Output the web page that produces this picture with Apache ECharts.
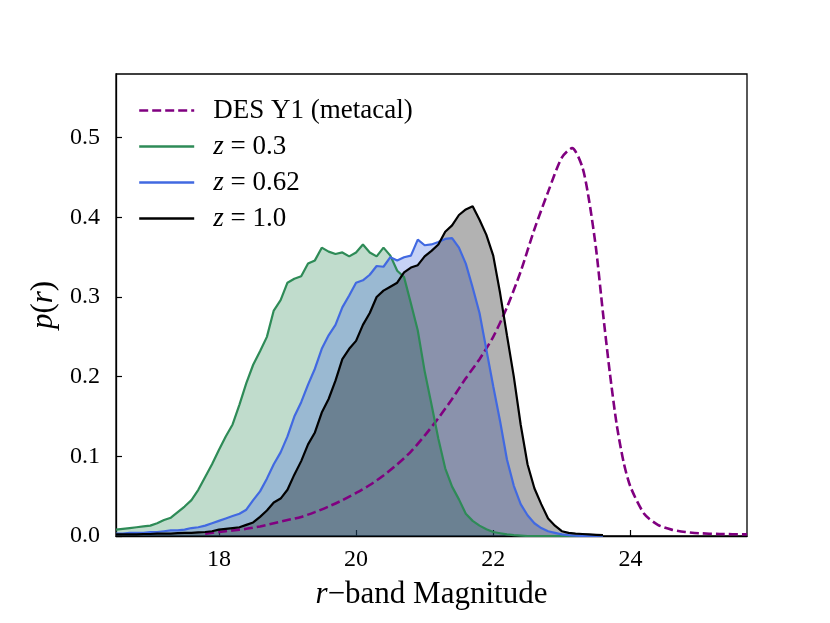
<!DOCTYPE html>
<html>
<head>
<meta charset="utf-8">
<script src="https://cdn.jsdelivr.net/npm/echarts@6/dist/echarts.min.js"></script>
<style>
html, body { margin: 0; padding: 0; background: #fff; }
#chart { width: 830px; height: 623px; }
</style>
</head>
<body>
<div id="chart"></div>
<script>
// bin centres of the simulated histograms (r magnitude)
var mags = [16.5, 16.6, 16.7, 16.8, 16.9, 17.0, 17.1, 17.2, 17.3, 17.4,
            17.5, 17.6, 17.7, 17.8, 17.9, 18.0, 18.1, 18.2, 18.3, 18.4,
            18.5, 18.6, 18.7, 18.8, 18.9, 19.0, 19.1, 19.2, 19.3, 19.4,
            19.5, 19.6, 19.7, 19.8, 19.9, 20.0, 20.1, 20.2, 20.3, 20.4,
            20.5, 20.6, 20.7, 20.8, 20.9, 21.0, 21.1, 21.2, 21.3, 21.4,
            21.5, 21.6, 21.7, 21.8, 21.9, 22.0, 22.1, 22.2, 22.3, 22.4,
            22.5, 22.6, 22.7, 22.8, 22.9, 23.0, 23.1, 23.2, 23.3, 23.4,
            23.5, 23.6];

// z = 0.3
var pZ03 = [0.008, 0.009, 0.010, 0.011, 0.012, 0.013, 0.016, 0.020, 0.023, 0.030,
            0.037, 0.045, 0.058, 0.074, 0.090, 0.108, 0.125, 0.140, 0.165, 0.192,
            0.215, 0.232, 0.250, 0.283, 0.296, 0.318, 0.323, 0.326, 0.342, 0.346,
            0.362, 0.357, 0.354, 0.356, 0.351, 0.356, 0.366, 0.356, 0.351, 0.362,
            0.352, 0.333, 0.325, 0.292, 0.258, 0.207, 0.165, 0.122, 0.085, 0.062,
            0.046, 0.028, 0.019, 0.013, 0.0085, 0.005, 0.0035, 0.002, 0.001, 0.0005,
            0, 0, 0, 0, 0, 0, 0, 0, 0, 0,
            0, 0];

// z = 0.62
var pZ062 = [0.003, 0.003, 0.004, 0.004, 0.004, 0.005, 0.005, 0.006, 0.007, 0.007,
             0.008, 0.010, 0.011, 0.013, 0.016, 0.019, 0.022, 0.025, 0.028, 0.033,
             0.045, 0.056, 0.072, 0.090, 0.105, 0.125, 0.150, 0.168, 0.190, 0.210,
             0.235, 0.252, 0.265, 0.287, 0.302, 0.318, 0.321, 0.328, 0.339, 0.338,
             0.350, 0.346, 0.350, 0.352, 0.372, 0.365, 0.366, 0.369, 0.373, 0.374,
             0.362, 0.342, 0.312, 0.280, 0.234, 0.188, 0.144, 0.096, 0.063, 0.040,
             0.026, 0.016, 0.010, 0.006, 0.004, 0.002, 0.001, 0.0005, 0, 0,
             0, 0];

// z = 1.0
var pZ10 = [0.002, 0.002, 0.002, 0.002, 0.0025, 0.0025, 0.003, 0.003, 0.003, 0.0035,
            0.004, 0.004, 0.0045, 0.005, 0.006, 0.008, 0.009, 0.010, 0.011, 0.014,
            0.017, 0.024, 0.032, 0.042, 0.047, 0.058, 0.077, 0.094, 0.115, 0.130,
            0.155, 0.172, 0.195, 0.222, 0.235, 0.245, 0.265, 0.280, 0.300, 0.308,
            0.313, 0.318, 0.331, 0.337, 0.340, 0.351, 0.358, 0.366, 0.382, 0.390,
            0.403, 0.410, 0.414, 0.397, 0.378, 0.352, 0.305, 0.252, 0.200, 0.140,
            0.090, 0.060, 0.040, 0.022, 0.013, 0.006, 0.004, 0.003, 0.0025, 0.002,
            0.0015, 0.001];

// DES Y1 metacal distribution
var desMag = [17.8, 18.0, 18.2, 18.4, 18.6, 18.8, 19.0, 19.2, 19.4, 19.6,
              19.8, 20.0, 20.2, 20.4, 20.6, 20.8, 21.0, 21.2, 21.4, 21.6,
              21.8, 22.0, 22.2, 22.4, 22.6, 22.8, 23.0, 23.15, 23.3, 23.4,
              23.5, 23.6, 23.7, 23.8, 23.9, 24.0, 24.2, 24.4, 24.6, 24.8,
              25.0, 25.3, 25.7];
var desP = [0.003, 0.005, 0.007, 0.009, 0.012, 0.016, 0.020, 0.024, 0.030, 0.037,
            0.045, 0.054, 0.064, 0.076, 0.090, 0.106, 0.126, 0.148, 0.172, 0.198,
            0.222, 0.250, 0.287, 0.332, 0.385, 0.432, 0.475, 0.487, 0.463, 0.420,
            0.360, 0.280, 0.205, 0.140, 0.093, 0.062, 0.028, 0.014, 0.008, 0.005,
            0.0035, 0.0025, 0.002];

var xTicks = [18, 20, 22, 24];
var yTicks = [0, 0.1, 0.2, 0.3, 0.4, 0.5];

var FONT = 'Liberation Serif';

function pairs(xs, ys) {
    var out = [];
    for (var i = 0; i < xs.length; i++) out.push([xs[i], ys[i]]);
    return out;
}

function fill(name, color, ys) {
    return {
        name: name + '_fill',
        type: 'line',
        data: pairs(mags, ys),
        symbol: 'none',
        silent: true,
        z: 1,
        lineStyle: {width: 0, opacity: 0},
        areaStyle: {color: color, opacity: 0.3}
    };
}

function line(name, color, xs, ys, dashed) {
    return {
        name: name,
        type: 'line',
        data: pairs(xs, ys),
        symbol: 'none',
        smooth: dashed ? 0.25 : false,
        z: 3,
        color: color,
        lineStyle: {color: color, width: dashed ? 2.6 : 2.2, type: dashed ? [9, 4] : 'solid'}
    };
}

var chart = echarts.init(document.getElementById('chart'));

var option = {
    backgroundColor: '#fff',
    animation: false,
    grid: {
        left: 116, right: 83, top: 74, bottom: 87,
        show: true, borderColor: '#000', borderWidth: 1.3, backgroundColor: 'transparent'
    },
    legend: {
        data: ['DES Y1 (metacal)', 'z = 0.3', 'z = 0.62', 'z = 1.0'],
        orient: 'vertical',
        left: 138,
        top: 97,
        padding: 0,
        itemWidth: 55,
        itemHeight: 20,
        itemGap: 9,
        itemStyle: {opacity: 0, borderWidth: 0},
        lineStyle: {width: 2.4},
        formatter: function (n) {
            return n.charAt(0) === 'z' ? '{i|z} ' + n.substring(2) : n;
        },
        textStyle: {
            fontFamily: FONT, fontSize: 27, color: '#000', lineHeight: 20,
            padding: [0, 0, 0, 14],
            rich: {i: {fontFamily: FONT, fontSize: 27, fontStyle: 'italic', color: '#000'}}
        }
    },
    xAxis: {
        type: 'value',
        min: 16.5,
        max: 25.7,
        name: '{i|r}\u2212band Magnitude',
        nameLocation: 'middle',
        nameGap: 43,
        nameTextStyle: {
            fontFamily: FONT, fontSize: 31, color: '#000',
            rich: {i: {fontFamily: FONT, fontSize: 31, fontStyle: 'italic', color: '#000'}}
        },
        axisLine: {show: true, onZero: false, lineStyle: {color: '#000', width: 1.3}},
        axisTick: {show: true, inside: true, length: 6, customValues: xTicks, lineStyle: {color: '#000', width: 1.2}},
        axisLabel: {customValues: xTicks, margin: 12, fontFamily: FONT, fontSize: 24, color: '#000'},
        splitLine: {show: false}
    },
    yAxis: {
        type: 'value',
        min: 0,
        max: 0.58,
        name: '{i|p}({i|r})',
        nameLocation: 'middle',
        nameRotate: 90,
        nameGap: 51,
        nameTextStyle: {
            fontFamily: FONT, fontSize: 31, color: '#000',
            rich: {i: {fontFamily: FONT, fontSize: 31, fontStyle: 'italic', color: '#000'}}
        },
        axisLine: {show: true, lineStyle: {color: '#000', width: 1.3}},
        axisTick: {show: true, inside: true, length: 6, customValues: yTicks, lineStyle: {color: '#000', width: 1.2}},
        axisLabel: {
            customValues: yTicks, margin: 16, fontFamily: FONT, fontSize: 24, color: '#000',
            formatter: function (v) { return v.toFixed(1); }
        },
        splitLine: {show: false}
    },
    series: [
        fill('z = 0.3', '#2e8b57', pZ03),
        fill('z = 0.62', '#4169e1', pZ062),
        fill('z = 1.0', '#000000', pZ10),
        line('DES Y1 (metacal)', '#800080', desMag, desP, true),
        line('z = 0.3', '#2e8b57', mags, pZ03, false),
        line('z = 0.62', '#4169e1', mags, pZ062, false),
        line('z = 1.0', '#000000', mags, pZ10, false)
    ]
};

chart.setOption(option);
</script>
</body>
</html>
